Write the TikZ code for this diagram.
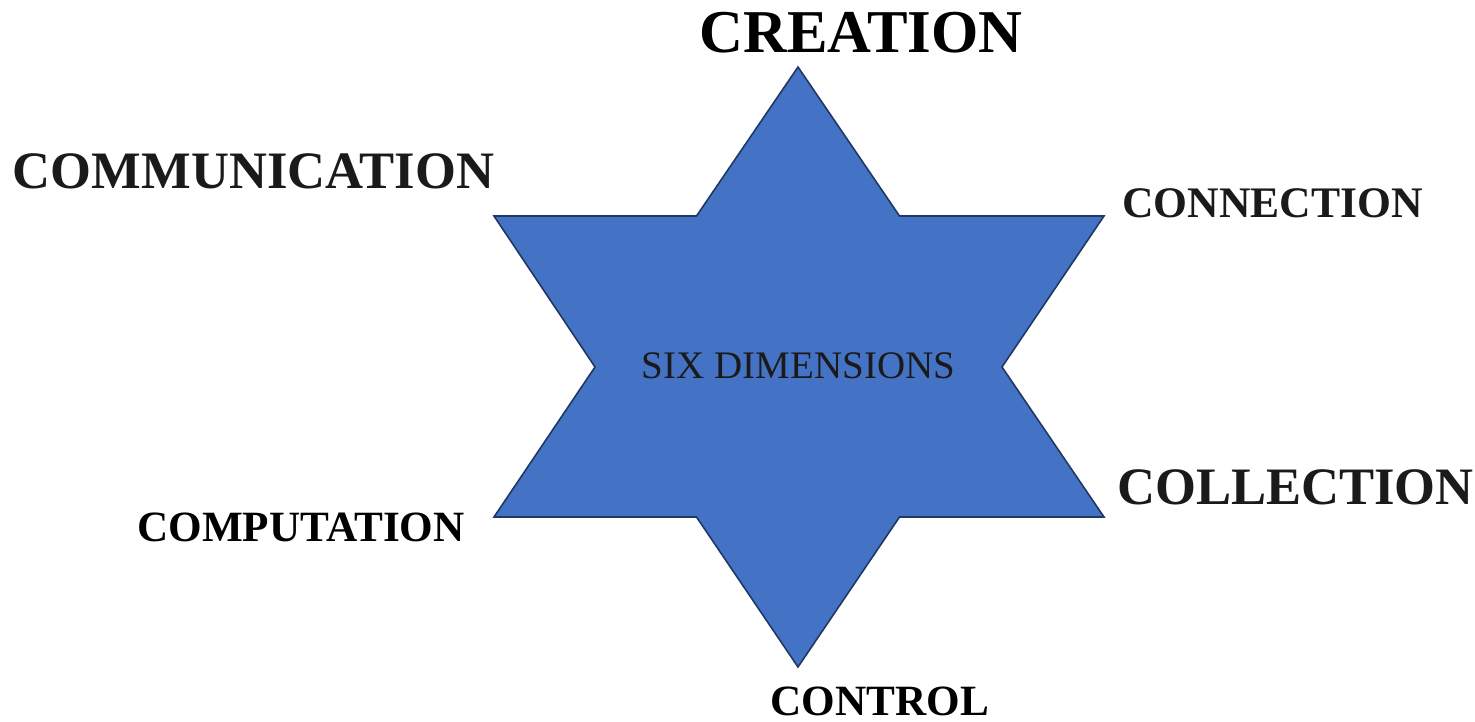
\documentclass[tikz,border=0pt]{standalone}
\usepackage{fontspec}
\setmainfont{Liberation Serif}
\definecolor{starfill}{HTML}{4472C4}
\definecolor{starline}{HTML}{1F3864}
\definecolor{labelgray}{HTML}{1A1A1A}
\begin{document}
\begin{tikzpicture}[x=1pt,y=-1pt,
  lbl/.style={anchor=base,inner sep=0pt,text depth=0pt,font=\bfseries,text=labelgray},
  starshape/.style={fill=starfill,draw=starline,line width=1.6pt,line join=miter}]
\useasboundingbox (0,0) rectangle (1475,722);
% six-pointed star
\coordinate (t) at (798,67);
\coordinate (b) at (798,667);
\draw[starshape] (t) -- (899.5,216) -- (1104,216) -- (1002,367) -- (1104,517) -- (899.5,517)
  -- (b) -- (696.5,517) -- (494,517) -- (595,367) -- (494,216) -- (696.5,216) -- cycle;
\node[anchor=base,inner sep=0pt,text=labelgray,font=\fontsize{39}{46}\selectfont] (center) at (798.5,378) {SIX DIMENSIONS};
\node[lbl,text=black,font=\bfseries\fontsize{60.8}{72}\selectfont] (creation) at (861,53) {CREATION};
\node[lbl,font=\bfseries\fontsize{52.6}{62}\selectfont] (communication) at (253.5,189) {COMMUNICATION};
\node[lbl,font=\bfseries\fontsize{43.6}{52}\selectfont] (connection) at (1272.5,218) {CONNECTION};
\node[lbl,font=\bfseries\fontsize{52.6}{62}\selectfont] (collection) at (1295.5,504) {COLLECTION};
\node[lbl,text=black,font=\bfseries\fontsize{43.2}{51}\selectfont] (computation) at (301,541) {COMPUTATION};
\node[lbl,text=black,font=\bfseries\fontsize{43.2}{51}\selectfont] (control) at (880,715) {CONTROL};
\end{tikzpicture}
\end{document}
